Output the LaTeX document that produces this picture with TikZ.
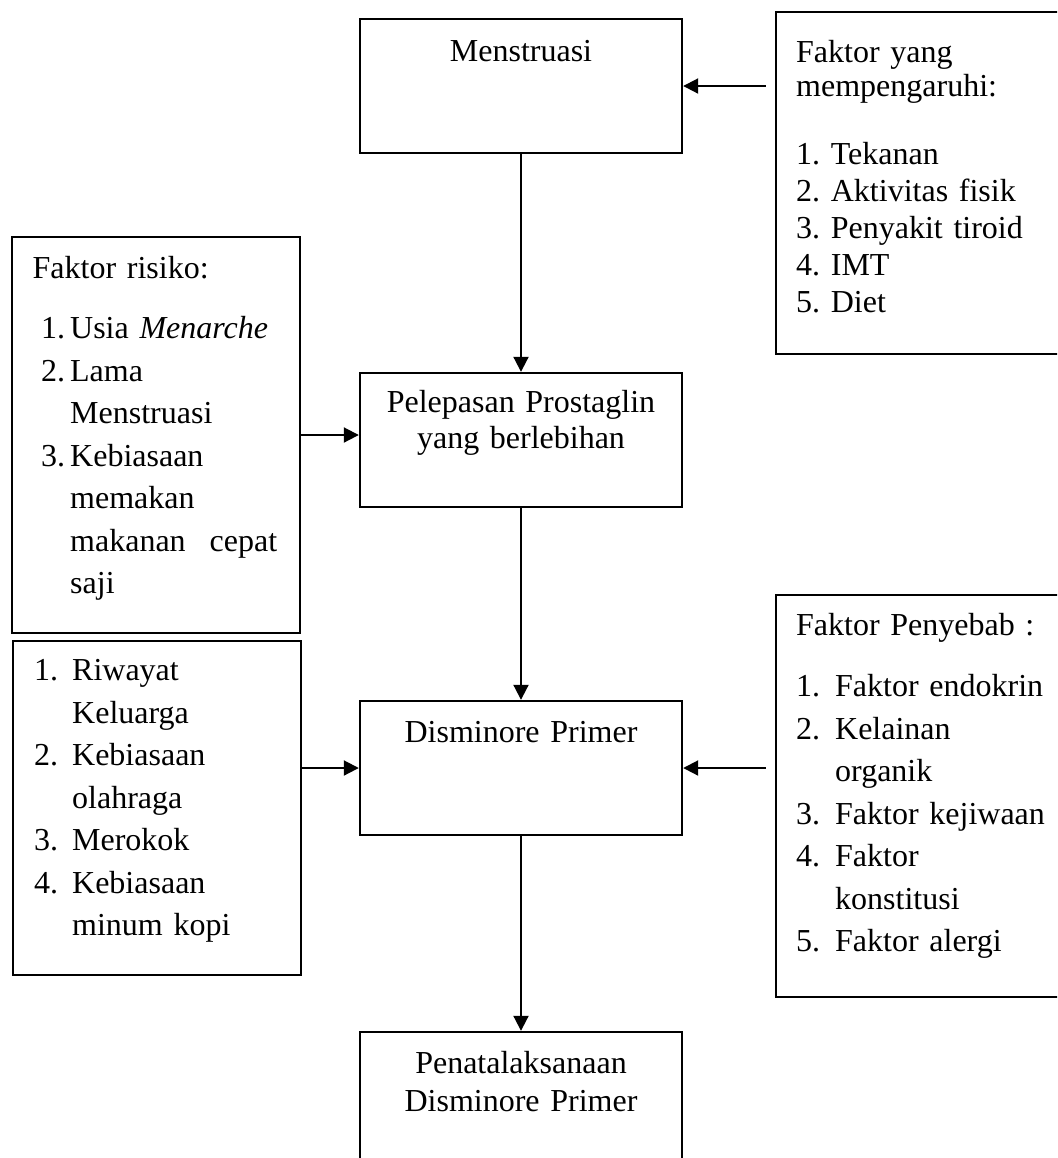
\documentclass[tikz,border=0pt]{standalone}
\usepackage{fontspec}
\setmainfont{Liberation Serif}
\usetikzlibrary{arrows.meta,positioning}
\frenchspacing
\newlength{\lebar}
\newcommand{\nom}[1]{\makebox[\lebar][l]{#1}}% nomor butir
\newcommand{\sambung}{\hspace*{\lebar}}% baris lanjutan
\tikzset{
  kotak/.style = {rectangle, draw=black, line width=1.2pt, inner sep=0pt,
    minimum width=161pt, minimum height=67pt},% kotak alur
  teks/.style = {inner sep=0pt, anchor=base west, align=left,
    font=\fontsize{16}{21.25}\selectfont},% isi kotak
  tengah/.style = {teks, anchor=base, align=center, text width=150pt},
  panah/.style = {-{Triangle[length=7.5pt,width=7.5pt]}, line width=1pt}
}

\begin{document}
\begin{tikzpicture}[x=0.5pt,y=-0.5pt]
    \path[use as bounding box, clip] (0,0) rectangle (1057,1158);
    % kotak
    \node [kotak] (menstruasi) at (521,86) {};
    \node [kotak, minimum width=152pt, minimum height=171pt] (pengaruh) at (928,183) {};
    \node [kotak, minimum width=144pt, minimum height=198pt] (risiko) at (156,435) {};
    \node [kotak] (pelepasan) at (521,440) {};
    \node [kotak, minimum width=144pt, minimum height=167pt] (riwayat) at (157,808) {};
    \node [kotak] (disminore) at (521,768) {};
    \node [kotak, minimum width=152pt, minimum height=201pt] (penyebab) at (928,796) {};
    \node [kotak] (penata) at (521,1099) {};
    % isi
    \node [tengah] (tMenstruasi) at ([shift={(0,44)}]menstruasi.north) {Menstruasi};
    \node [teks, text width=140pt, font=\fontsize{16}{18.5}\selectfont] (tPengaruh)
      at ([shift={(21,52)}]pengaruh.north west)
      {Faktor yang\\[-1.5pt]mempengaruhi:\\[15.5pt]1. Tekanan\\2. Aktivitas fisik\\
       3. Penyakit tiroid\\4. IMT\\5. Diet};
    \node [teks, text width=130pt] (tRisiko) at ([shift={(21.5,43)}]risiko.north west)
      {\setlength{\lebar}{14.5pt}Faktor risiko:\\[8.75pt]
       \hspace*{4.25pt}\nom{1.}Usia \textit{Menarche}\\
       \hspace*{4.25pt}\nom{2.}Lama\\
       \hspace*{4.25pt}\sambung Menstruasi\\
       \hspace*{4.25pt}\nom{3.}Kebiasaan\\
       \hspace*{4.25pt}\sambung memakan\\
       \hspace*{4.25pt}\sambung\makebox[103.5pt][s]{makanan\hfill cepat}\\
       \hspace*{4.25pt}\sambung saji};
    \node [tengah, font=\fontsize{16}{18}\selectfont] (tPelepasan)
      at ([shift={(0,41)}]pelepasan.north) {Pelepasan Prostaglin\\yang berlebihan};
    \node [teks, text width=130pt] (tRiwayat) at ([shift={(22,41)}]riwayat.north west)
      {\setlength{\lebar}{19pt}\nom{1.}Riwayat\\ \sambung Keluarga\\
       \nom{2.}Kebiasaan\\ \sambung olahraga\\ \nom{3.}Merokok\\
       \nom{4.}Kebiasaan\\ \sambung minum kopi};
    \node [tengah] (tDisminore) at ([shift={(0,43)}]disminore.north) {Disminore Primer};
    \node [teks, text width=130pt] (tPenyebab) at ([shift={(21,42)}]penyebab.north west)
      {\setlength{\lebar}{19.5pt}Faktor Penyebab :\\[9.25pt]
       \nom{1.}Faktor endokrin\\ \nom{2.}Kelainan\\ \sambung organik\\
       \nom{3.}Faktor kejiwaan\\ \nom{4.}Faktor\\ \sambung konstitusi\\
       \nom{5.}Faktor alergi};
    \node [tengah, font=\fontsize{16}{19}\selectfont] (tPenata)
      at ([shift={(0,43)}]penata.north) {Penatalaksanaan\\Disminore Primer};
    % panah
    \draw [panah, shorten <=4.5pt] (pengaruh.west |- menstruasi.east) -- (menstruasi.east);
    \draw [panah] (menstruasi) -- (pelepasan);
    \draw [panah] (risiko.east) -- (risiko.east -| pelepasan.west);
    \draw [panah] (pelepasan) -- (disminore);
    \draw [panah] (riwayat.east |- disminore.west) -- (disminore.west);
    \draw [panah, shorten <=4.5pt] (penyebab.west |- disminore.east) -- (disminore.east);
    \draw [panah] (disminore) -- (penata);
\end{tikzpicture}
\end{document}
